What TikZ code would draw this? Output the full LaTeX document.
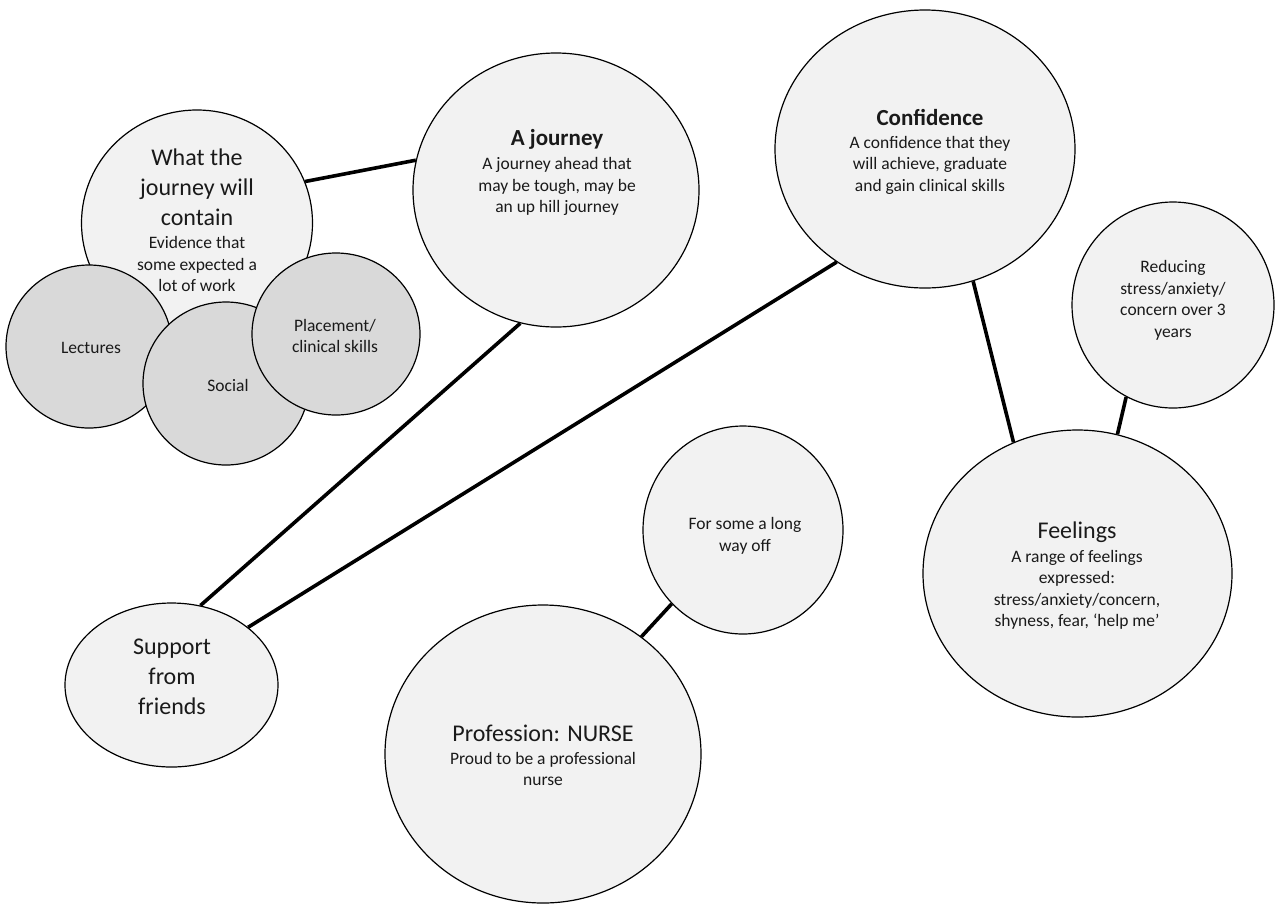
\documentclass[tikz,border=0pt]{standalone}
\usepackage{fontspec}
\setmainfont{Carlito}
\usetikzlibrary{shapes.geometric}
\definecolor{lightfill}{HTML}{F2F2F2}
\definecolor{darkfill}{HTML}{D9D9D9}
\definecolor{txt}{HTML}{1A1A1A}
\tikzset{
  bubble/.style={ellipse, draw=black, line width=1.2pt, fill=lightfill, inner sep=0pt},
  subbubble/.style={bubble, fill=darkfill},
  link/.style={line width=3.6pt, draw=black},
  ttl/.style={align=center, inner sep=0pt, text=txt, font=\fontsize{24}{30}\selectfont},
  ttlb/.style={align=center, inner sep=0pt, text=txt, font=\bfseries\fontsize{23}{28}\selectfont},
  body/.style={align=center, inner sep=0pt, text=txt, font=\fontsize{17.5}{21.5}\selectfont},
}
\begin{document}
\begin{tikzpicture}[x=1pt,y=-1pt]
\useasboundingbox[fill=white] (0,0) rectangle (1279,906);

% bubbles
\node[bubble, minimum width=231pt, minimum height=226pt] (what) at (197,223) {};
\node[subbubble, minimum width=166pt, minimum height=163pt] (lect) at (89,346.5) {};
\node[subbubble, minimum width=166pt, minimum height=163pt] (soc) at (226,383.5) {};
\node[subbubble, minimum width=168pt, minimum height=162pt] (plac) at (336,334) {};
\node[bubble, minimum width=286pt, minimum height=274pt] (journey) at (556,190) {};
\node[bubble, minimum width=300pt, minimum height=278pt] (conf) at (925,149) {};
\node[bubble, minimum width=202pt, minimum height=206pt] (reduce) at (1173,305) {};
\node[bubble, minimum width=309pt, minimum height=287pt] (feel) at (1077.5,573.5) {};
\node[bubble, minimum width=200pt, minimum height=208pt] (farway) at (743,530) {};
\node[bubble, minimum width=316pt, minimum height=298pt] (prof) at (543,754) {};
\node[bubble, minimum width=213pt, minimum height=164pt] (support) at (171.5,685) {};

% connectors
\draw[link] (what.21.7) -- (journey.168.8);
\draw[link] (journey.255) -- (support.70);
\draw[link] (conf.232) -- (support.37);
\draw[link] (conf.290.5) -- (feel.116);
\draw[link] (reduce.243) -- (feel.74.8);
\draw[link] (farway.226.5) -- (prof.50.2);

% texts
\node[ttl] (whatT) at (197,187) {What the\\journey will\\contain};
\node[body] (whatB) at (197,264) {Evidence that\\some expected a\\lot of work};
\node[body] (lectT) at (91,348) {Lectures};
\node[body] (socT) at (228,385) {Social};
\node[body] (placT) at (335,336) {Placement/\\clinical skills};
\node[ttlb] (journeyT) at (557,139) {A journey};
\node[body] (journeyB) at (557,186.5) {A journey ahead that\\may be tough, may be\\an up hill journey};
\node[ttlb] (confT) at (930,117) {Confidence};
\node[body] (confB) at (930,165) {A confidence that they\\will achieve, graduate\\and gain clinical skills};
\node[body] (reduceT) at (1173,300.5) {Reducing\\stress/anxiety/\\concern over 3\\years};
\node[ttl] (feelT) at (1077,532) {Feelings};
\node[body] (feelB) at (1077,590) {A range of feelings\\expressed:\\stress/anxiety/concern,\\shyness, fear, ‘help me’};
\node[body] (farwayT) at (745,536) {For some a long\\way off};
\node[ttl] (profT) at (543,733) {Profession: NURSE};
\node[body] (profB) at (543,769) {Proud to be a professional\\nurse};
\node[ttl] (supportT) at (172,677) {Support\\from\\friends};
\end{tikzpicture}
\end{document}
